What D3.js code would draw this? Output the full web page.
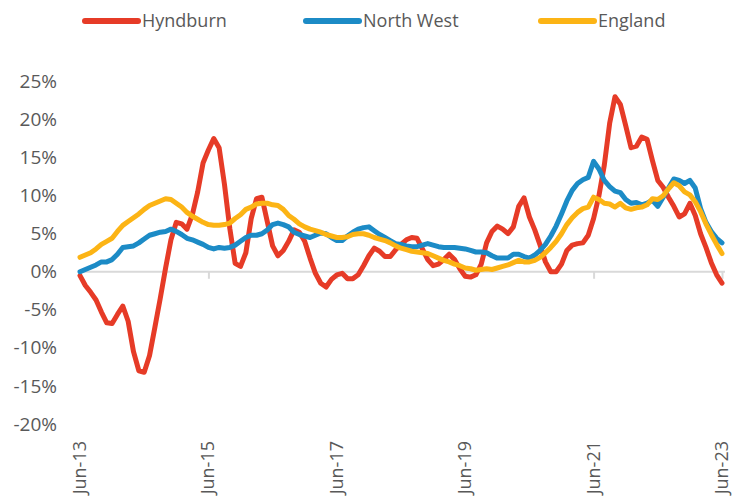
<!DOCTYPE html>
<html>
<head>
<meta charset="utf-8">
<script src="https://cdn.jsdelivr.net/npm/d3@7"></script>
<style>
  html, body { margin: 0; padding: 0; background: #fff; }
  svg { display: block; font-family: "Open Sans", sans-serif; }
</style>
</head>
<body>
<svg id="chart" width="732" height="504"></svg>
<script>
const seriesNames = ["Hyndburn", "North West", "England"];
const seriesColors = ["#E63B27", "#1C8BC6", "#FCB415"];

const tickLabels = ["Jun-13", "Jun-15", "Jun-17", "Jun-19", "Jun-21", "Jun-23"];
const tickIndex = [0, 24, 48, 72, 96, 120];
const yTicks = [-20, -15, -10, -5, 0, 5, 10, 15, 20, 25];

const hyndburn = [
  -0.5, -1.8, -2.7, -3.7, -5.3, -6.7, -6.8, -5.6, -4.5, -6.5,
  -10.5, -13.0, -13.2, -11.0, -7.3, -3.5, 0.5, 4.2, 6.5, 6.3,
  5.6, 7.5, 10.5, 14.3, 16.0, 17.5, 16.3, 11.5, 5.7, 1.1,
  0.7, 2.5, 7.0, 9.6, 9.8, 6.6, 3.4, 2.1, 2.8, 4.0,
  5.5, 5.2, 4.0, 1.8, -0.2, -1.5, -2.0, -1.0, -0.4, -0.2,
  -0.9, -0.9, -0.4, 0.8, 2.1, 3.1, 2.7, 2.0, 2.0, 2.9,
  3.6, 4.2, 4.5, 4.4, 3.0, 1.6, 0.8, 1.0, 1.6, 2.3,
  1.6, 0.4, -0.6, -0.7, -0.4, 1.0, 3.8, 5.3, 6.0, 5.6,
  5.0, 5.9, 8.6, 9.7, 7.2, 5.5, 3.5, 1.3, 0.0, 0.0,
  1.0, 2.8, 3.5, 3.7, 3.8, 4.8, 7.0, 10.0, 14.0, 19.5,
  23.0, 22.0, 19.2, 16.3, 16.5, 17.7, 17.4, 14.6, 12.0, 11.1,
  9.8, 8.6, 7.2, 7.6, 9.0, 7.4, 5.0, 3.2, 1.2, -0.4,
  -1.5
];

const northWest = [
  0.0, 0.3, 0.6, 0.9, 1.3, 1.3, 1.6, 2.3, 3.2, 3.3,
  3.4, 3.8, 4.3, 4.8, 5.0, 5.2, 5.3, 5.6, 5.3, 4.9,
  4.4, 4.2, 3.9, 3.6, 3.2, 3.0, 3.2, 3.1, 3.2, 3.5,
  4.0, 4.5, 4.8, 4.8, 5.0, 5.5, 6.2, 6.4, 6.2, 5.9,
  5.2, 4.9, 4.7, 4.5, 4.8, 5.1, 5.0, 4.5, 4.1, 4.1,
  4.7, 5.2, 5.6, 5.8, 5.9, 5.4, 4.9, 4.5, 4.1, 3.7,
  3.6, 3.4, 3.3, 3.3, 3.5, 3.7, 3.5, 3.3, 3.2, 3.2,
  3.2, 3.1, 3.0, 2.8, 2.6, 2.6, 2.5, 2.1, 1.8, 1.8,
  1.8, 2.3, 2.3, 2.0, 1.8, 2.2, 2.8, 3.6, 4.7, 6.0,
  7.6, 9.3, 10.7, 11.6, 12.1, 12.4, 14.5, 13.5, 12.0, 11.2,
  10.6, 10.4, 9.5, 9.0, 9.1, 8.8, 9.0, 9.4, 8.6, 9.8,
  11.0, 12.2, 12.0, 11.6, 12.0, 11.0, 8.3, 6.5, 5.3, 4.4,
  3.8
];

const england = [
  1.9, 2.2, 2.5, 3.0, 3.6, 4.0, 4.4, 5.3, 6.1, 6.6,
  7.1, 7.6, 8.2, 8.7, 9.0, 9.3, 9.6, 9.5, 9.0, 8.5,
  7.8, 7.3, 6.9, 6.5, 6.2, 6.1, 6.1, 6.2, 6.4, 7.0,
  7.5, 8.2, 8.5, 8.9, 9.0, 9.0, 8.8, 8.7, 8.2, 7.4,
  6.9, 6.3, 5.9, 5.6, 5.4, 5.2, 4.9, 4.7, 4.5, 4.5,
  4.6, 4.9, 5.0, 5.0, 4.8, 4.5, 4.3, 4.1, 3.8, 3.4,
  3.1, 2.9, 2.7, 2.6, 2.5, 2.4, 2.1, 1.8, 1.5, 1.3,
  1.0, 0.8, 0.5, 0.4, 0.2, 0.3, 0.4, 0.3, 0.5, 0.7,
  0.9, 1.2, 1.5, 1.3, 1.3, 1.5, 1.9, 2.5, 3.2, 4.0,
  5.0, 6.2, 7.1, 7.8, 8.3, 8.5, 9.8, 9.5, 9.0, 8.9,
  8.5, 9.0, 8.4, 8.2, 8.4, 8.5, 8.8, 9.6, 9.5, 10.0,
  10.9, 11.7, 11.3, 10.5, 10.1, 9.2, 7.9, 6.3, 4.9, 3.6,
  2.4
];

const seriesValues = [hyndburn, northWest, england];

const svg = d3.select("#chart");
const x = d3.scaleLinear().domain([0, hyndburn.length - 1]).range([80, 722]);
const y = d3.scaleLinear().domain([-20, 25]).range([424, 81.5]);
const textColor = "#595959";

// Y axis labels
const yAxis = d3.axisLeft(y).tickValues(yTicks).tickSize(0).tickPadding(0)
  .tickFormat(d => d + "%");
const gy = svg.append("g").attr("transform", "translate(57,0)").call(yAxis);
gy.select(".domain").remove();
gy.selectAll("text").attr("fill", textColor).style("font-size", "19px")
  .style("font-family", "'Open Sans', sans-serif");

// Zero line with ticks
const xAxis = d3.axisBottom(x).tickValues(tickIndex).tickSize(7).tickFormat("");
const gx = svg.append("g").attr("transform", `translate(0,${y(0)})`).call(xAxis);
gx.select(".domain").attr("stroke", "#D9D9D9").attr("stroke-width", 2)
  .attr("d", `M${x(0)},0H${x(hyndburn.length - 1) + 3}`);
gx.selectAll(".tick line").attr("stroke", "#D9D9D9").attr("stroke-width", 2);

// Bottom rotated labels
svg.append("g").selectAll("text").data(tickIndex).join("text")
  .attr("transform", (d) => `translate(${x(d) + 6},441) rotate(-90)`)
  .attr("text-anchor", "end")
  .attr("fill", textColor)
  .style("font-size", "18px")
  .text((d, i) => tickLabels[i]);

// Lines
const line = d3.line().x((d, i) => x(i)).y(d => y(d));
svg.append("g").selectAll("path").data(seriesValues).join("path")
  .attr("d", d => line(d))
  .attr("fill", "none")
  .attr("stroke", (d, i) => seriesColors[i])
  .attr("stroke-width", 5)
  .attr("stroke-linejoin", "round")
  .attr("stroke-linecap", "round");

// Legend
const legendX = [85, 306, 541];
const legendY = 21;
const lg = svg.append("g").selectAll("g").data(seriesNames).join("g")
  .attr("transform", (d, i) => `translate(${legendX[i]},${legendY})`);
lg.append("line").attr("x1", 0).attr("x2", 53).attr("y1", 0).attr("y2", 0)
  .attr("stroke", (d, i) => seriesColors[i]).attr("stroke-width", 6)
  .attr("stroke-linecap", "round");
lg.append("text").attr("x", 57).attr("y", 0).attr("dy", "0.35em")
  .attr("fill", textColor).style("font-size", "18px").text(d => d);
</script>
</body>
</html>
